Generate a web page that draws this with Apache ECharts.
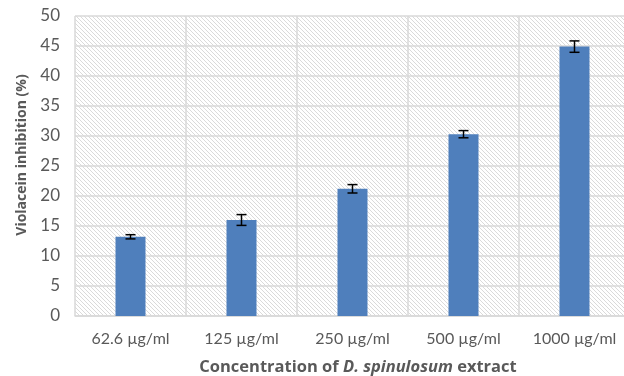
<!DOCTYPE html>
<html><head><meta charset="utf-8">
<script src="https://cdn.jsdelivr.net/npm/echarts@6/dist/echarts.min.js"></script>
<style>html,body{margin:0;padding:0;background:#fff}#c{width:624px;height:376px}</style>
</head><body><div id="c"></div>
<script>
const categories = ['62.6 µg/ml', '125 µg/ml', '250 µg/ml', '500 µg/ml', '1000 µg/ml'];
const values = [13.2, 16.0, 21.2, 30.3, 44.9];
const errors = [0.35, 0.9, 0.7, 0.6, 0.95];
const yTicks = [0, 5, 10, 15, 20, 25, 30, 35, 40, 45, 50];
const xTitle = 'Concentration of {i|D. spinulosum} extract';
const yTitle = 'Violacein inhibition (%)';

const pc = document.createElement('canvas');
pc.width = 4; pc.height = 4;
const pctx = pc.getContext('2d');
pctx.fillStyle = '#ffffff'; pctx.fillRect(0, 0, 4, 4);
pctx.fillStyle = '#dadada';
for (let i = 0; i < 4; i++) pctx.fillRect(i, i, 1, 1);

const errData = values.map((v, i) => [i, v - errors[i], v + errors[i]]);
const font = 'Lato, "Open Sans", sans-serif';
const tfont = '"Open Sans", sans-serif';
const chart = echarts.init(document.getElementById('c'));
chart.setOption({
  animation: false,
  grid: { left: 75, right: -6, top: 16, bottom: 60, show: true, borderWidth: 0,
          outerBoundsMode: 'none', containLabel: false,
          backgroundColor: { image: pc, repeat: 'repeat' } },
  graphic: [
    { type: 'text', silent: true, x: 22, y: 155, rotation: Math.PI / 2,
      style: { text: yTitle, fill: '#595959', font: 'bold 14px ' + tfont, align: 'center', verticalAlign: 'middle' } }
  ],
  xAxis: {
    type: 'category', data: categories,
    axisLine: { lineStyle: { color: '#d9d9d9', width: 1.5 } },
    axisTick: { show: false },
    splitLine: { show: true, lineStyle: { color: '#d9d9d9', width: 1.5 } },
    axisLabel: { color: '#595959', fontSize: 16, fontFamily: font, margin: 15, interval: 0 },
    name: xTitle,
    nameLocation: 'middle', nameGap: 43,
    nameTextStyle: { color: '#595959', fontSize: 16.5, fontWeight: 'bold', fontFamily: tfont, padding: [0, 0, 0, 11],
      rich: { i: { fontStyle: 'italic', fontWeight: 'bold', color: '#595959', fontSize: 16.5, fontFamily: tfont } } }
  },
  yAxis: {
    type: 'value', min: 0, max: 50, interval: 5,
    axisLine: { show: false }, axisTick: { show: false },
    splitLine: { lineStyle: { color: '#d9d9d9', width: 1.5 } },
    axisLabel: { color: '#595959', fontSize: 17, fontFamily: font, margin: 15,
      formatter: v => yTicks.includes(v) ? String(v) : '' }
  },
  series: [
    { type: 'bar', data: values, barWidth: 30, itemStyle: { color: '#4f7fbc' }, z: 2 },
    { type: 'custom', data: errData, z: 3,
      renderItem: (params, api) => {
        const x = api.value(0);
        const lo = api.coord([x, api.value(1)]);
        const hi = api.coord([x, api.value(2)]);
        const hw = 5;
        const st = { stroke: '#000', lineWidth: 1.5 };
        return { type: 'group', children: [
          { type: 'line', shape: { x1: lo[0], y1: lo[1], x2: hi[0], y2: hi[1] }, style: st },
          { type: 'line', shape: { x1: lo[0] - hw, y1: lo[1], x2: lo[0] + hw, y2: lo[1] }, style: st },
          { type: 'line', shape: { x1: hi[0] - hw, y1: hi[1], x2: hi[0] + hw, y2: hi[1] }, style: st }
        ] };
      } }
  ]
});
</script></body></html>
